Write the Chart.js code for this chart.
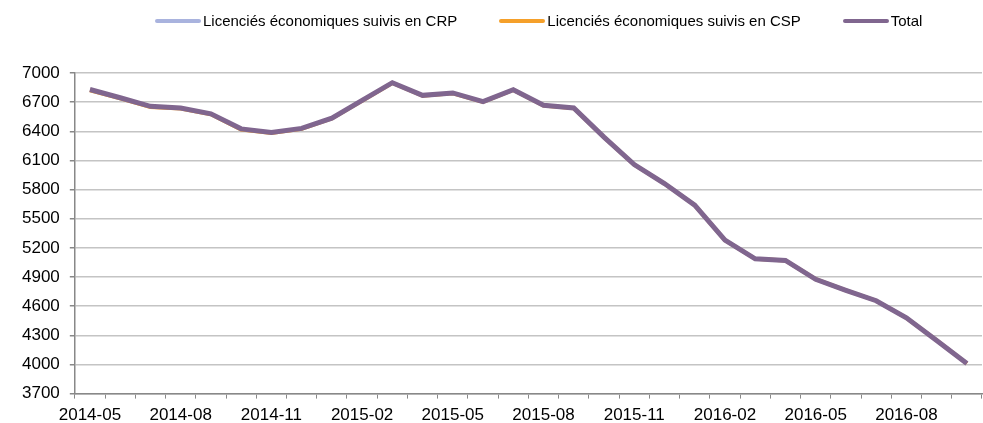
<!DOCTYPE html>
<html>
<head>
<meta charset="utf-8">
<script src="https://cdn.jsdelivr.net/npm/chart.js@4"></script>
<style>
  body { margin: 0; background: #fff; font-family: "Liberation Sans", Arial, sans-serif; }
  .wrap { position: relative; width: 983px; height: 423px; overflow: hidden; }
  .legend { position: absolute; top: 12px; left: 155px; display: flex; gap: 42px; font-size: 15px; color: #000; }
  .legend .item { display: flex; align-items: center; }
  .legend .swatch { width: 46px; height: 4px; border-radius: 2px; margin-right: 2px; }
</style>
</head>
<body>
<div class="wrap">
  <div class="legend" id="legend"></div>
  <canvas id="chart" width="983" height="423"></canvas>
</div>
<script>
// months 2014-05 .. 2016-10
const months = [
  '2014-05','2014-06','2014-07','2014-08','2014-09','2014-10','2014-11','2014-12',
  '2015-01','2015-02','2015-03','2015-04','2015-05','2015-06','2015-07','2015-08',
  '2015-09','2015-10','2015-11','2015-12','2016-01','2016-02','2016-03','2016-04',
  '2016-05','2016-06','2016-07','2016-08','2016-09','2016-10'
];

const totalValues = [
  6830, 6745, 6657, 6640, 6580, 6425, 6388, 6430, 6535, 6718,
  6900, 6770, 6795, 6705, 6828, 6668, 6640, 6340, 6058, 5862,
  5640, 5280, 5088, 5071, 4877, 4763, 4656, 4480, 4247, 4010
];

// CRP almost gone by 2014, so it sits below the axis min
const crpValues = [
  7, 6, 6, 5, 5, 8, 5, 4, 4, 3,
  3, 3, 3, 2, 2, 2, 2, 2, 1, 1,
  1, 1, 1, 1, 0, 0, 0, 0, 0, 0
];

const cspValues = [
  6823, 6739, 6651, 6635, 6575, 6417, 6383, 6426, 6532, 6715,
  6897, 6767, 6792, 6703, 6826, 6666, 6638, 6338, 6057, 5861,
  5639, 5279, 5087, 5070, 4877, 4763, 4656, 4480, 4247, 4010
];

const yTicks = { min: 3700, max: 7000, step: 300 };

const series = [
  { label: 'Licenciés économiques suivis en CRP', data: crpValues, color: '#A9B3DE', width: 4, order: 2 },
  { label: 'Licenciés économiques suivis en CSP', data: cspValues, color: '#F5A02A', width: 4, order: 1 },
  { label: 'Total', data: totalValues, color: '#80668F', width: 5, order: 0 }
];

// html legend
const legend = document.getElementById('legend');
series.forEach(s => {
  const item = document.createElement('div');
  item.className = 'item';
  item.innerHTML = '<span class="swatch" style="background:' + s.color + '"></span><span>' + s.label + '</span>';
  legend.appendChild(item);
});

const font = { family: '"Liberation Sans", Arial, sans-serif', size: 17 };

new Chart(document.getElementById('chart'), {
  type: 'line',
  data: {
    labels: months,
    datasets: series.map(s => ({
      label: s.label,
      data: s.data,
      order: s.order,
      borderColor: s.color,
      backgroundColor: s.color,
      borderWidth: s.width,
      pointRadius: 0,
      tension: 0,
      fill: false
    }))
  },
  options: {
    responsive: false,
    animation: false,
    layout: { padding: { top: 73, left: 12, right: 1, bottom: -10 } },
    plugins: {
      legend: { display: false },
      tooltip: { enabled: false }
    },
    scales: {
      x: {
        offset: true,
        grid: {
          offset: true,
          drawOnChartArea: false,
          tickLength: 5,
          tickColor: '#888'
        },
        border: { color: '#888', width: 1.5 },
        ticks: {
          autoSkip: false,
          maxRotation: 0,
          color: '#000',
          font: font,
          padding: 7,
          callback: function (v, i) { return i % 3 === 0 ? months[i] : ''; }
        }
      },
      y: {
        min: yTicks.min,
        max: yTicks.max,
        grid: {
          color: '#c4c4c4',
          lineWidth: 1.5,
          tickLength: 5,
          tickColor: '#888'
        },
        border: { color: '#888', width: 1.5 },
        ticks: {
          stepSize: yTicks.step,
          color: '#000',
          font: font,
          padding: 10,
          callback: v => String(v)
        }
      }
    }
  }
});
</script>
</body>
</html>
